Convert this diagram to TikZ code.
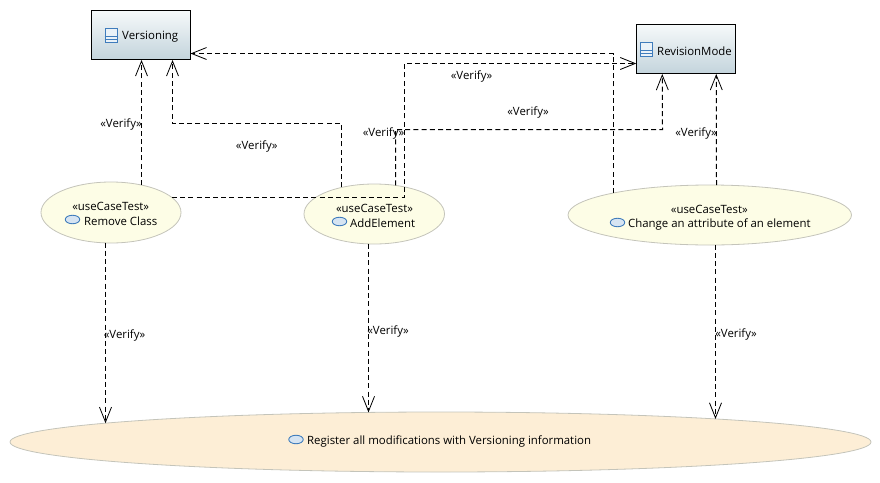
\documentclass[tikz,border=0pt]{standalone}
\usepackage{fontspec}
\setmainfont{Open Sans}
\usetikzlibrary{shapes.geometric,arrows.meta,calc}
\definecolor{boxtop}{HTML}{F6F9FA}
\definecolor{boxbot}{HTML}{C3D4DC}
\definecolor{testfill}{HTML}{FDFDE6}
\definecolor{ucfill}{HTML}{FDEED6}
\definecolor{edgegrey}{HTML}{C4C4BA}
\definecolor{iconblue}{HTML}{3F7CBC}
\definecolor{iconfill}{HTML}{D6E4F2}
\tikzset{
  txt/.style={font=\fontsize{11.4}{13}\selectfont,inner sep=0pt,text=black},
  classbox/.style={draw=black,line width=1pt,top color=boxtop,bottom color=boxbot,minimum width=98.5pt,minimum height=49pt,inner sep=0pt},
  usecase/.style={ellipse,draw=edgegrey,line width=.8pt,inner sep=0pt},
  dep/.style={draw=black,line width=1pt,dash pattern=on 5pt off 3.2pt,-{Straight Barb[length=15pt,width=12pt,line width=.8pt]}},
  vlabel/.style={txt},
  ovalicon/.style={ellipse,draw=iconblue,fill=iconfill,line width=.9pt,minimum width=14.5pt,minimum height=8.5pt,inner sep=0pt},
  classicon/.style={draw=iconblue,fill=iconfill!50,line width=.9pt,minimum width=12pt,minimum height=14pt,inner sep=0pt},
}
\newcommand{\classlines}[1]{%
  \draw[iconblue,line width=.9pt] ($(#1.west)+(0,1.5)$) -- ($(#1.east)+(0,1.5)$);
  \draw[iconblue,line width=.9pt] ($(#1.west)+(0,4)$) -- ($(#1.east)+(0,4)$);}
\begin{document}
\begin{tikzpicture}[x=1pt,y=-1pt]
\useasboundingbox (0,0) rectangle (880,482);
% boxes
\node[classbox] (v) at (140.75,35) {};
\node[classbox] (r) at (686,49) {};
% ellipses
\node[usecase,fill=testfill,minimum width=140pt,minimum height=61pt] (rc) at (111,212.5) {};
\node[usecase,fill=testfill,minimum width=140.5pt,minimum height=60pt] (ae) at (374.25,214) {};
\node[usecase,fill=testfill,minimum width=283.5pt,minimum height=60pt] (ch) at (709.75,215) {};
\node[usecase,fill=ucfill,minimum width=861pt,minimum height=60pt] (reg) at (440.5,442) {};
% box texts
\node[classicon] (vi) at (111,35) {};
\classlines{vi}
\node[txt,anchor=west] (vt) at (122,37) {Versioning};
\node[classicon] (ri) at (646.5,49) {};
\classlines{ri}
\node[txt,anchor=west] (rt) at (657,51) {RevisionMode};
% ellipse texts
\node[txt] (rcs) at (110.7,206.5) {«useCaseTest»};
\node[ovalicon] (rci) at (72.5,219.5) {};
\node[txt,anchor=west] (rct) at (84,221.5) {Remove Class};
\node[txt] (aes) at (374.5,208.5) {«useCaseTest»};
\node[ovalicon] (aei) at (339.5,221.5) {};
\node[txt,anchor=west] (aet) at (350,223.5) {AddElement};
\node[txt] (chs) at (709.3,209.5) {«useCaseTest»};
\node[ovalicon] (chi) at (617.5,222.5) {};
\node[txt,anchor=west] (cht) at (628,224.5) {Change an attribute of an element};
\node[ovalicon] (regi) at (296,439.5) {};
\node[txt,anchor=west] (regt) at (307,441.5) {Register all modifications with Versioning information};
% connector ends on the node borders
\coordinate (rcA) at ($(rc.center)+(30.5,-27.5)$);
\coordinate (rcB) at ($(rc.center)+(61,-15)$);
\coordinate (rcC) at ($(rc.center)+(-5.5,30)$);
\coordinate (aeA) at ($(ae.center)+(-32.75,-26.6)$);
\coordinate (aeB) at ($(ae.center)+(21.25,-28.6)$);
\coordinate (aeC) at ($(ae.center)+(-5.75,29.9)$);
\coordinate (chA) at ($(ch.center)+(-96.25,-22)$);
\coordinate (chB) at ($(ch.center)+(6.75,-29.8)$);
\coordinate (chC) at ($(ch.center)+(5.75,29.8)$);
\coordinate (regA) at ($(reg.center)+(-335,-18.8)$);
\coordinate (regB) at ($(reg.center)+(-72,-29.6)$);
\coordinate (regC) at ($(reg.center)+(275,-23.1)$);
\coordinate (v1) at ($(v.south)+(.75,0)$);
\coordinate (v2) at ($(v.south)+(31.75,0)$);
\coordinate (r1) at ($(r.south west)+(26,0)$);
\coordinate (r2) at ($(r.south west)+(80,0)$);
\coordinate (vin) at ($(v.east)+(0,18.5)$);
\coordinate (rin) at ($(r.west)+(0,14.5)$);
\coordinate (a1) at (341.5,123.5);
\coordinate (a2) at (172.5,123.5);
\coordinate (b1) at (395.5,129.5);
\coordinate (b2) at (662.5,129.5);
\coordinate (c1) at (404.5,197.5);
\coordinate (c2) at (404.5,63.5);
\coordinate (d1) at (613.5,53.5);
% connectors
\draw[dep] (rcA) -- (v1);
\draw[dep] (rcB) -- (c1) -- (c2) -- (rin);
\draw[dep] (aeA) -- (a1) -- (a2) -- (v2);
\draw[dep] (aeB) -- (b1) -- (b2) -- (r1);
\draw[dep] (chA) -- (d1) -- (vin);
\draw[dep] (chB) -- (r2);
\draw[dep] (rcC) -- (regA);
\draw[dep] (aeC) -- (regB);
\draw[dep] (chC) -- (regC);
% labels
\node[vlabel] (l1) at (121,125) {«Verify»};
\node[vlabel] (l2) at (256.7,146.5) {«Verify»};
\node[vlabel] (l3) at (471.5,76.5) {«Verify»};
\node[vlabel] (l4) at (528,113) {«Verify»};
\node[vlabel] (l5) at (383.5,133.5) {«Verify»};
\node[vlabel] (l6) at (696,133.5) {«Verify»};
\node[vlabel] (l7) at (124.5,335.5) {«Verify»};
\node[vlabel] (l8) at (388,331.5) {«Verify»};
\node[vlabel] (l9) at (736,334.5) {«Verify»};
\end{tikzpicture}
\end{document}
